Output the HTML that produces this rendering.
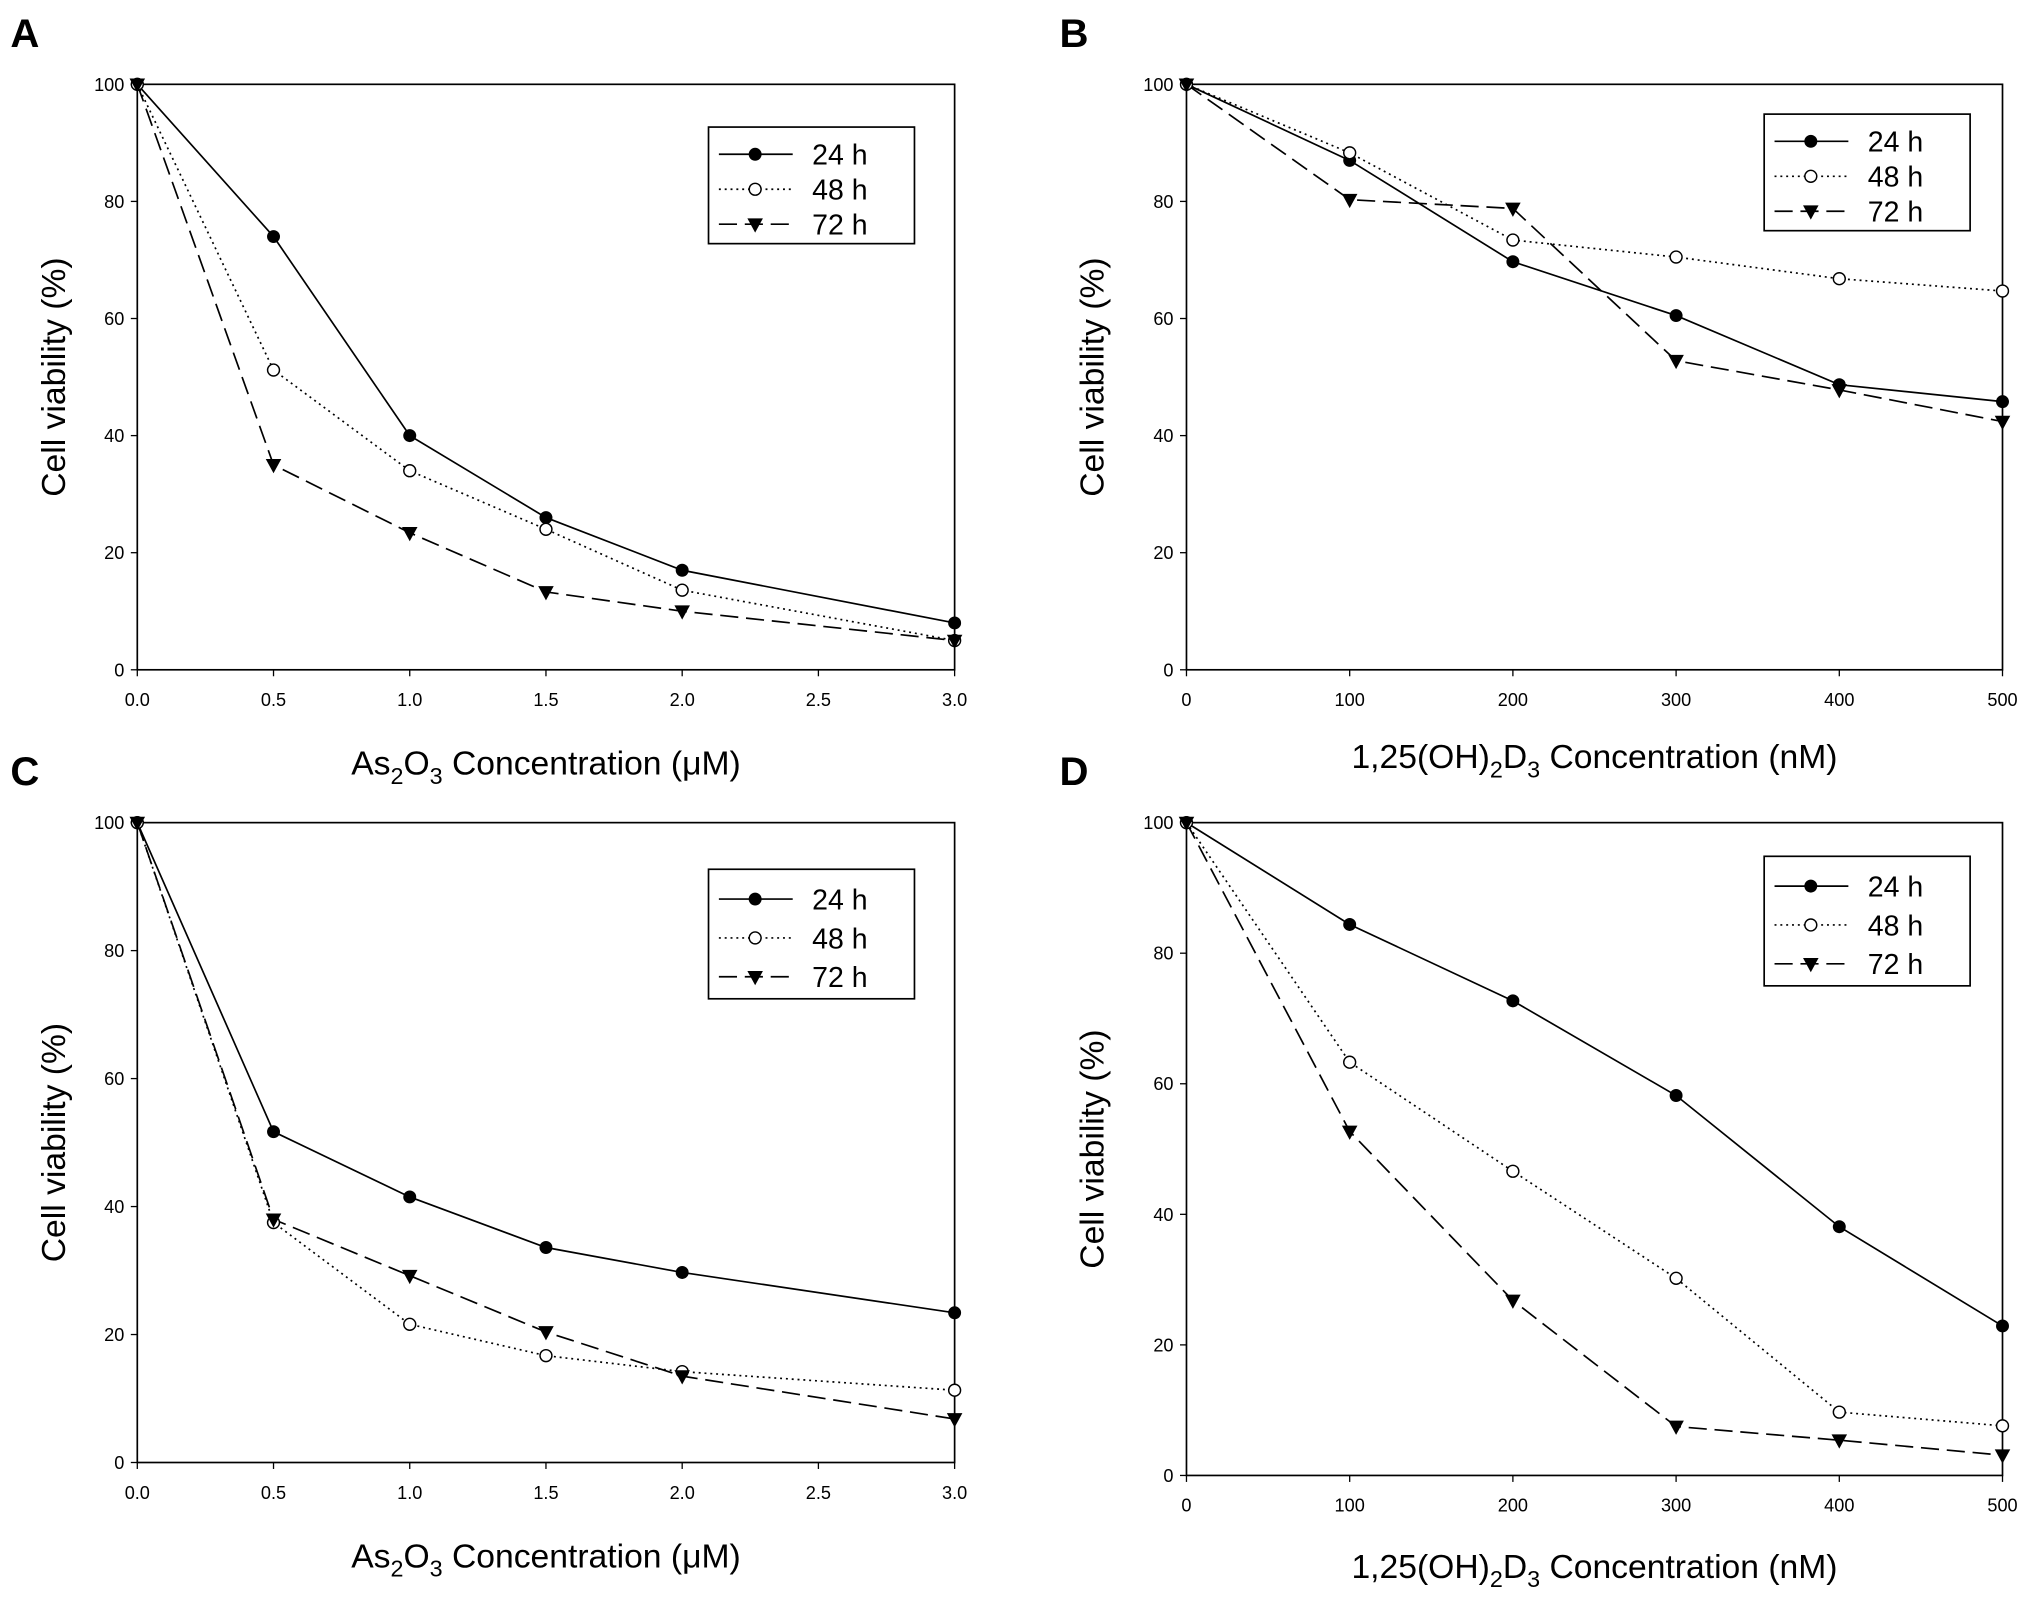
<!DOCTYPE html>
<html><head><meta charset="utf-8"><style>
html,body{margin:0;padding:0;background:#fff;}
svg{display:block;font-family:"Liberation Sans",Arial,sans-serif;}
</style></head><body>
<svg id="fig" width="2031" height="1609" viewBox="0 0 1568 1242" xmlns="http://www.w3.org/2000/svg"></svg>
<script>
const asX = [0, 0.5, 1, 1.5, 2, 3];
const vdX = [0, 100, 200, 300, 400, 500];
const asTicks = ["0.0","0.5","1.0","1.5","2.0","2.5","3.0"];
const vdTicks = ["0","100","200","300","400","500"];
const yTicks = [0,20,40,60,80,100];
const seriesNames = ["24 h","48 h","72 h"];
const a24 = [100,74,40,26,17,8];
const a48 = [100,51.2,34,24,13.6,5];
const a72 = [100,35,23.4,13.3,10,5];
const b24 = [100,87,69.7,60.5,48.7,45.8];
const b48 = [100,88.3,73.4,70.5,66.8,64.7];
const b72 = [100,80.3,78.8,52.8,47.8,42.4];
const c24 = [100,51.7,41.5,33.6,29.7,23.4];
const c48 = [100,37.5,21.6,16.7,14.2,11.3];
const c72 = [100,38,29.2,20.4,13.5,6.8];
const d24 = [100,84.4,72.7,58.2,38.1,22.9];
const d48 = [100,63.3,46.6,30.2,9.7,7.6];
const d72 = [100,52.7,26.8,7.5,5.4,3.1];

const svg = document.getElementById('fig');
const NS = "http://www.w3.org/2000/svg";
function mk(tag, attrs, parent){ const e=document.createElementNS(NS,tag); for(const k in attrs) e.setAttribute(k,attrs[k]); (parent||svg).appendChild(e); return e; }

const dashes = ["", "1.5,3", "14,6"];

function marker(g, kind, x, y, s){
  let m;
  if(kind===0){ m = mk('circle',{cx:x,cy:y,r:5,fill:'#000'},g); }
  else if(kind===1){ m = mk('circle',{cx:x,cy:y,r:4.6,fill:'#fff',stroke:'#000','stroke-width':1.1},g); }
  else { m = mk('polygon',{points:`${x-6},${y-4.5} ${x+6},${y-4.5} ${x},${y+6.5}`,fill:'#000'},g); }
  
  
}

function panel(id, letter, L, R, T, B, xs, xmax, xt, xtv, series, titleMain, legend, titleY, isAs){
  const g = mk('g',{});
  
  
  const sx = v => L + (R-L)*v/xmax;
  const sy = v => B - (B-T)*v/100;
  const lt = mk('text',{x:letter[0],y:letter[1],'font-size':31,'font-weight':'bold'},g); lt.textContent=id.toUpperCase();
   
  const box = mk('rect',{x:L,y:T,width:R-L,height:B-T,fill:'none',stroke:'#000','stroke-width':1.3},g);
   
  xt.forEach((lab,i)=>{
    const x = sx(xtv[i]);
    mk('line',{x1:x,y1:B,x2:x,y2:B+5,stroke:'#000','stroke-width':1},g);
    const t = mk('text',{x:x,y:B+28,'font-size':14,'text-anchor':'middle'},g); t.textContent=lab;
     
  });
  yTicks.forEach(v=>{
    const y = sy(v);
    mk('line',{x1:L-5,y1:y,x2:L,y2:y,stroke:'#000','stroke-width':1},g);
    const t = mk('text',{x:L-10,y:y+5,'font-size':14,'text-anchor':'end'},g); t.textContent=v;
     
  });
  series.forEach((vals,k)=>{
    const pts = vals.map((v,i)=>sx(xs[i])+','+sy(v)).join(' ');
    const pl = mk('polyline',{points:pts,fill:'none',stroke:'#000','stroke-width':1.3},g);
    if(dashes[k]) pl.setAttribute('stroke-dasharray',dashes[k]);
    
    
  });
  series.forEach((vals,k)=>{ vals.forEach((v,i)=>marker(g,k,sx(xs[i]),sy(v),i)); });
  const [lx,ly,lw,lh] = legend;
  const lg = mk('g',{},g);
   
  mk('rect',{x:lx,y:ly,width:lw,height:lh,fill:'#fff',stroke:'#000','stroke-width':1.3},lg);
  seriesNames.forEach((n,k)=>{
    const y = ly + lh*(0.2+0.3*k)+3;
    const ln = mk('line',{x1:lx+8,y1:y,x2:lx+65,y2:y,stroke:'#000','stroke-width':1.3},lg);
    if(dashes[k]) ln.setAttribute('stroke-dasharray',dashes[k]);
    marker(lg,k,lx+36,y,'legend');
    const t = mk('text',{x:lx+80,y:y+8,'font-size':22},lg); t.textContent=n;
     
  });
  const cy = (T+B)/2;
  const yt = mk('text',{x:0,y:0,'font-size':26,'text-anchor':'middle',transform:`translate(${titleY},${cy}) rotate(-90)`},g);
  yt.textContent='Cell viability (%)';
   
  const xt2 = mk('text',{x:(L+R)/2,y:titleMain,'font-size':26,'text-anchor':'middle'},g);
   
  if(isAs){
    xt2.innerHTML = 'As<tspan dy="7" font-size="18">2</tspan><tspan dy="-7">O</tspan><tspan dy="7" font-size="18">3</tspan><tspan dy="-7"> Concentration (\u03bcM)</tspan>';
  } else {
    xt2.innerHTML = '1,25(OH)<tspan dy="7" font-size="18">2</tspan><tspan dy="-7">D</tspan><tspan dy="7" font-size="18">3</tspan><tspan dy="-7"> Concentration (nM)</tspan>';
  }
}

const asTV = asTicks.map(Number), vdTV = vdTicks.map(Number);
panel('a',[8,36],106,737,65,517,asX,3,asTicks,asTV,[a24,a48,a72],598,[547,98,159,90],50,true);
panel('b',[818,36],916,1546,65,517,vdX,500,vdTicks,vdTV,[b24,b48,b72],593,[1362,88,159,90],852,false);
panel('c',[8,606],106,737,635,1129,asX,3,asTicks,asTV,[c24,c48,c72],1210,[547,671,159,100],50,true);
panel('d',[818,606],916,1546,635,1139,vdX,500,vdTicks,vdTV,[d24,d48,d72],1218,[1362,661,159,100],852,false);
</script>
</body></html>
